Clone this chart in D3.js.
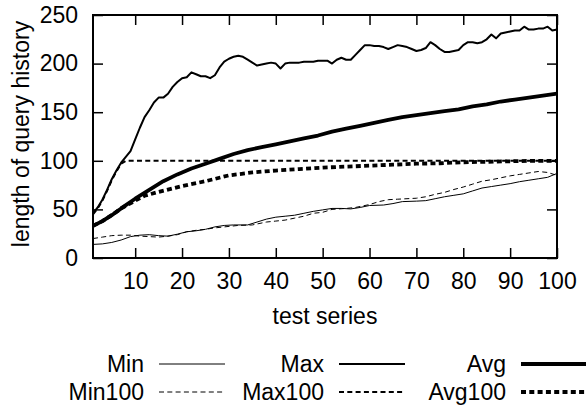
<!DOCTYPE html>
<html>
<head>
<meta charset="utf-8">
<script src="https://cdn.jsdelivr.net/npm/d3@7"></script>
<style>
  body { margin: 0; background: #fff; }
  text { font-family: "Liberation Sans", Arial, sans-serif; font-size: 23px; fill: #000; }
</style>
</head>
<body>
<script>
// values, [test series, length]
var minData = [[1,14],[3,14.5],[5,16],[7,18.5],[9,22],[11,23.5],[13,24],[15,23],[17,22.5],[19,24.5],[21,27],[23,28],[25,29.5],[27,32],[29,33.5],[31,34],[34,34],[36,37],[38,40],[40,42],[42,43],[44,44],[46,46],[48,48],[50,49.5],[52,51],[54,51],[56,50.5],[58,52],[60,54],[63,54.5],[65,56],[67,58],[70,58.5],[72,59],[74,61],[76,63],[78,64.5],[80,66],[82,69],[84,72],[86,73.5],[88,75],[90,76.5],[92,78.5],[94,80],[96,81.5],[98,83],[100,87]];
var min100Data = [[1,20],[3,21.5],[5,23],[7,23.5],[9,23.5],[11,22.5],[13,22],[15,21.5],[17,22.5],[19,24],[21,27],[23,28.5],[25,29.5],[27,31],[29,32],[32,33.5],[35,34],[38,37],[40,38],[42,39],[44,41],[46,43],[48,46],[50,47],[52,50],[55,51],[57,52],[60,55],[62,58],[64,60],[66,60.5],[70,61.5],[72,63],[74,65.5],[76,67.5],[78,70.5],[80,73],[82,76],[84,79],[86,80.5],[88,82.5],[90,84.5],[92,86],[94,87.5],[96,89],[98,88],[100,85]];
var maxData = [[1,46],[2,52],[3,60],[4,70],[5,81],[6,90],[7,98],[8,104],[9,110],[10,122],[11,134],[12,145],[13,152],[14,160],[15,165],[16,165],[17,169],[18,176],[19,181],[20,185],[21,186],[22,191],[23,189],[24,187],[25,187],[26,185],[27,188],[28,196],[29,202],[30,205],[31,207],[32,208],[33,207],[34,204],[35,201],[36,198],[37,199],[38,200],[39,201],[40,200],[41,195],[42,200],[43,201],[44,201],[45,201],[46,202],[47,202],[48,202],[49,203],[50,203],[51,203],[52,200],[53,204],[54,206],[55,204],[56,204],[57,209],[58,214],[59,219],[60,219],[61,218],[62,218],[63,217],[64,215],[65,217],[66,219],[67,218],[68,217],[69,215],[70,213],[71,214],[72,216],[73,222],[74,219],[75,215],[76,212],[77,212],[78,213],[79,214],[80,219],[81,222],[82,222],[83,221],[84,222],[85,225],[86,230],[87,226],[88,231],[89,232],[90,233],[91,234],[92,234],[93,238],[94,235],[95,235],[96,236],[97,236],[98,238],[99,234],[100,235]];
var max100Data = [[1,45],[2,51],[3,59],[4,69],[5,80],[6,89],[7,97],[8,100],[100,100]];
var avgData = [[1,33],[3,38],[5,44],[7,51],[10,61],[13,70],[16,79],[19,86],[22,92],[25,97],[28,102],[31,107],[34,111],[37,114],[40,117],[43,120],[46,123],[49,126],[52,130],[55,133],[58,136],[61,139],[64,142],[67,145],[70,147],[73,149],[76,151],[79,153],[82,156],[85,158],[88,161],[91,163],[94,165],[97,167],[100,169]];
var avg100Data = [[1,33],[3,38],[5,44],[7,51],[10,59],[12,64],[15,68],[20,74],[25,79],[30,85],[35,88],[40,90],[45,91.5],[50,93],[55,94],[60,95],[65,96],[70,97],[75,97.5],[80,98.5],[85,99],[90,99.5],[95,100],[100,100]];

var xTicks = [10, 20, 30, 40, 50, 60, 70, 80, 90, 100];
var yTicks = [0, 50, 100, 150, 200, 250];
var seriesNames = ["Min", "Max", "Avg", "Min100", "Max100", "Avg100"];

var series = {
  "Min": minData, "Max": maxData, "Avg": avgData,
  "Min100": min100Data, "Max100": max100Data, "Avg100": avg100Data
};
// line looks
var style = {
  "Min":    {w: 1,   dash: null},
  "Max":    {w: 2,   dash: null},
  "Avg":    {w: 3.8, dash: null},
  "Min100": {w: 1,   dash: "5,3.3"},
  "Max100": {w: 2,   dash: "5,3.3"},
  "Avg100": {w: 3.8, dash: "5,3.3"}
};

var width = 586, height = 407;
var plotLeft = 93, plotRight = 557, plotTop = 15, plotBottom = 258;

var svg = d3.select("body").append("svg")
    .attr("width", width)
    .attr("height", height);

var x = d3.scaleLinear().domain([1, 100]).range([plotLeft, plotRight]);
var y = d3.scaleLinear().domain([0, 250]).range([plotBottom, plotTop]);

// ticks on all four sides, pointing inward
var tickLen = 10;
var xAxisB = d3.axisBottom(x).tickValues(xTicks).tickSizeInner(-tickLen).tickSizeOuter(0).tickPadding(15);
var xAxisT = d3.axisTop(x).tickValues(xTicks).tickSizeInner(-tickLen).tickSizeOuter(0).tickFormat("");
var yAxisL = d3.axisLeft(y).tickValues(yTicks).tickSizeInner(-tickLen).tickSizeOuter(0).tickPadding(15);
var yAxisR = d3.axisRight(y).tickValues(yTicks).tickSizeInner(-tickLen).tickSizeOuter(0).tickFormat("");

function plain(g) {
  g.select(".domain").remove();
  g.selectAll(".tick line").attr("stroke", "#000").attr("stroke-width", 1.5);
  g.selectAll(".tick text").attr("font-size", null).attr("font-family", null);
}

svg.append("g").attr("transform", "translate(0," + plotBottom + ")").call(xAxisB).call(plain);
svg.append("g").attr("transform", "translate(0," + plotTop + ")").call(xAxisT).call(plain);
svg.append("g").attr("transform", "translate(" + plotLeft + ",0)").call(yAxisL).call(plain);
svg.append("g").attr("transform", "translate(" + plotRight + ",0)").call(yAxisR).call(plain);

svg.append("rect")
    .attr("x", plotLeft).attr("y", plotTop)
    .attr("width", plotRight - plotLeft).attr("height", plotBottom - plotTop)
    .attr("fill", "none").attr("stroke", "#000").attr("stroke-width", 2);

var line = d3.line()
    .x(function(d) { return x(d[0]); })
    .y(function(d) { return y(d[1]); });

seriesNames.forEach(function(name) {
  svg.append("path")
      .datum(series[name])
      .attr("d", line)
      .attr("fill", "none")
      .attr("stroke", "#000")
      .attr("stroke-width", style[name].w)
      .attr("stroke-dasharray", style[name].dash)
      .attr("stroke-linejoin", "round");
});

// axis titles
svg.append("text")
    .attr("x", (plotLeft + plotRight) / 2).attr("y", 324)
    .attr("text-anchor", "middle")
    .text("test series");

svg.append("text")
    .attr("transform", "translate(29,134) rotate(-90)")
    .attr("text-anchor", "middle")
    .text("length of query history");

// legend: 3 columns, 2 rows (last sample runs off the right edge)
var legendX = [144, 324, 506];
var legendY = [364, 392];
seriesNames.forEach(function(name, i) {
  var cx = legendX[i % 3], cy = legendY[Math.floor(i / 3)];
  svg.append("text")
      .attr("x", cx).attr("y", cy + 8)
      .attr("text-anchor", "end")
      .text(name);
  svg.append("line")
      .attr("x1", cx + 15).attr("x2", cx + 81)
      .attr("y1", cy).attr("y2", cy)
      .attr("stroke", "#000")
      .attr("stroke-width", style[name].w)
      .attr("stroke-dasharray", style[name].dash);
});
</script>
</body>
</html>
